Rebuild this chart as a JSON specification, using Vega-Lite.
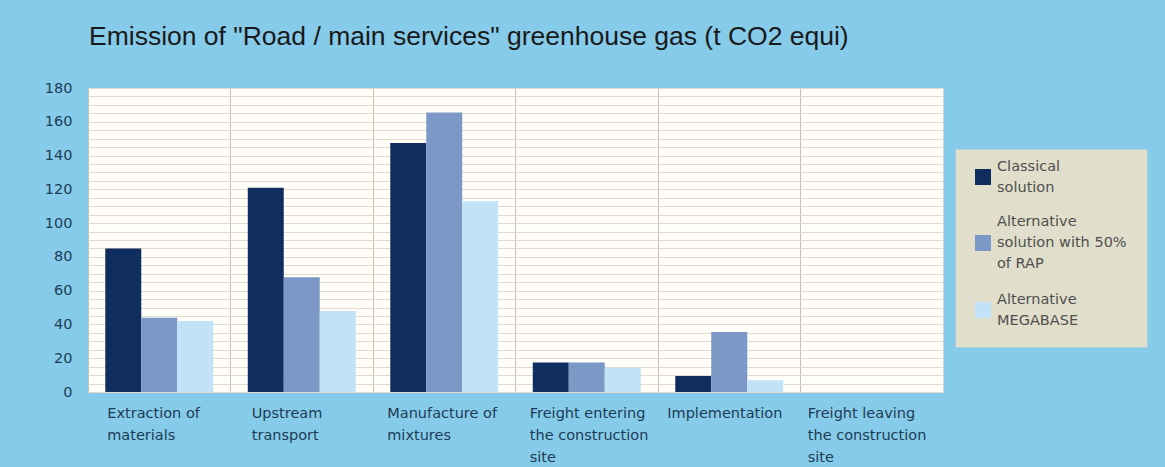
{
  "$schema": "https://vega.github.io/schema/vega-lite/v6.json",
  "width": 855,
  "height": 304,
  "autosize": {"type": "none"},
  "padding": {"left": 88, "top": 88, "right": 222, "bottom": 75},
  "background": "#86cbe9",
  "title": {
    "text": "Emission of \"Road / main services\" greenhouse gas (t CO2 equi)",
    "anchor": "start",
    "frame": "group",
    "font": "Liberation Sans",
    "fontSize": 26.5,
    "fontWeight": "normal",
    "color": "#1a1a1a",
    "offset": 30,
    "dx": 1
  },
  "data": {
    "values": [
      {"stage": "Extraction of materials", "solution": "Classical solution", "value": 85},
      {"stage": "Extraction of materials", "solution": "Alternative solution with 50% of RAP", "value": 44},
      {"stage": "Extraction of materials", "solution": "Alternative MEGABASE", "value": 42},
      {"stage": "Upstream transport", "solution": "Classical solution", "value": 121},
      {"stage": "Upstream transport", "solution": "Alternative solution with 50% of RAP", "value": 68},
      {"stage": "Upstream transport", "solution": "Alternative MEGABASE", "value": 48},
      {"stage": "Manufacture of mixtures", "solution": "Classical solution", "value": 147.5},
      {"stage": "Manufacture of mixtures", "solution": "Alternative solution with 50% of RAP", "value": 165.5},
      {"stage": "Manufacture of mixtures", "solution": "Alternative MEGABASE", "value": 113},
      {"stage": "Freight entering the construction site", "solution": "Classical solution", "value": 17.5},
      {"stage": "Freight entering the construction site", "solution": "Alternative solution with 50% of RAP", "value": 17.5},
      {"stage": "Freight entering the construction site", "solution": "Alternative MEGABASE", "value": 14.5},
      {"stage": "Implementation", "solution": "Classical solution", "value": 9.5},
      {"stage": "Implementation", "solution": "Alternative solution with 50% of RAP", "value": 35.5},
      {"stage": "Implementation", "solution": "Alternative MEGABASE", "value": 7},
      {"stage": "Freight leaving the construction site", "solution": "Classical solution", "value": 0},
      {"stage": "Freight leaving the construction site", "solution": "Alternative solution with 50% of RAP", "value": 0},
      {"stage": "Freight leaving the construction site", "solution": "Alternative MEGABASE", "value": 0}
    ]
  },
  "mark": {"type": "bar"},
  "encoding": {
    "x": {
      "field": "stage",
      "type": "nominal",
      "sort": null,
      "scale": {"paddingInner": 0, "paddingOuter": 0},
      "axis": {
        "title": null,
        "domain": false,
        "ticks": false,
        "grid": true,
        "bandPosition": 0,
        "gridColor": "#c8c3ba",
        "gridWidth": 1,
        "labelAngle": 0,
        "labelAlign": "left",
        "labelBaseline": "top",
        "labelPadding": 14,
        "labelFont": "DejaVu Sans",
        "labelFontSize": 14.5,
        "labelColor": "#1d3c55",
        "labelLineHeight": 22,
        "labelLimit": 0,
        "labelOverlap": false,
        "labelBound": false,
        "labelOffset": {"expr": "[-52, -50, -57, -57, -62, -64][indexof(['Extraction of materials', 'Upstream transport', 'Manufacture of mixtures', 'Freight entering the construction site', 'Implementation', 'Freight leaving the construction site'], datum.value)]"},
        "labelExpr": "datum.value == 'Extraction of materials' ? ['Extraction of', 'materials'] : datum.value == 'Upstream transport' ? ['Upstream', 'transport'] : datum.value == 'Manufacture of mixtures' ? ['Manufacture of', 'mixtures'] : datum.value == 'Freight entering the construction site' ? ['Freight entering', 'the construction', 'site'] : datum.value == 'Implementation' ? 'Implementation' : ['Freight leaving', 'the construction', 'site']"
      }
    },
    "xOffset": {
      "field": "solution",
      "type": "nominal",
      "sort": null,
      "scale": {"paddingInner": 0, "paddingOuter": 0.48}
    },
    "y": {
      "field": "value",
      "type": "quantitative",
      "scale": {"domain": [0, 180], "nice": false},
      "axis": {
        "title": null,
        "domain": false,
        "ticks": false,
        "grid": true,
        "gridColor": "#e2dbcd",
        "gridWidth": 1,
        "values": [0, 5, 10, 15, 20, 25, 30, 35, 40, 45, 50, 55, 60, 65, 70, 75, 80, 85, 90, 95, 100, 105, 110, 115, 120, 125, 130, 135, 140, 145, 150, 155, 160, 165, 170, 175, 180],
        "labelExpr": "datum.value % 20 == 0 ? datum.label : ''",
        "labelPadding": 16,
        "labelFont": "DejaVu Sans",
        "labelFontSize": 14.5,
        "labelColor": "#1d3c55",
        "labelOverlap": false
      }
    },
    "color": {
      "field": "solution",
      "type": "nominal",
      "sort": null,
      "scale": {
        "domain": ["Classical solution", "Alternative solution with 50% of RAP", "Alternative MEGABASE"],
        "range": ["#0f2d5e", "#7b98c6", "#c2e2f7"]
      },
      "legend": {
        "orient": "none",
        "legendX": 867,
        "legendY": 61,
        "title": null,
        "fillColor": "#e1decb",
        "strokeColor": "#a9cfe0",
        "padding": 20,
        "symbolType": "square",
        "symbolSize": 256,
        "symbolStrokeWidth": 0,
        "labelFont": "DejaVu Sans",
        "labelFontSize": 14.5,
        "labelColor": "#4f4f4f",
        "labelOffset": 6,
        "labelLimit": 300,
        "rowPadding": 20,
        "labelExpr": "datum.label == 'Classical solution' ? ['Classical', 'solution'] : datum.label == 'Alternative solution with 50% of RAP' ? ['Alternative', 'solution with 50%', 'of RAP'] : ['Alternative', 'MEGABASE']",
        "encode": {
          "labels": {
            "update": {
              "lineHeight": {"value": 21},
              "dy": {"signal": "datum.label == 'Alternative solution with 50% of RAP' ? -21 : -10.5"}
            }
          }
        }
      }
    }
  },
  "config": {
    "view": {"fill": "#fffef9", "stroke": "#d6d6d6"}
  }
}
